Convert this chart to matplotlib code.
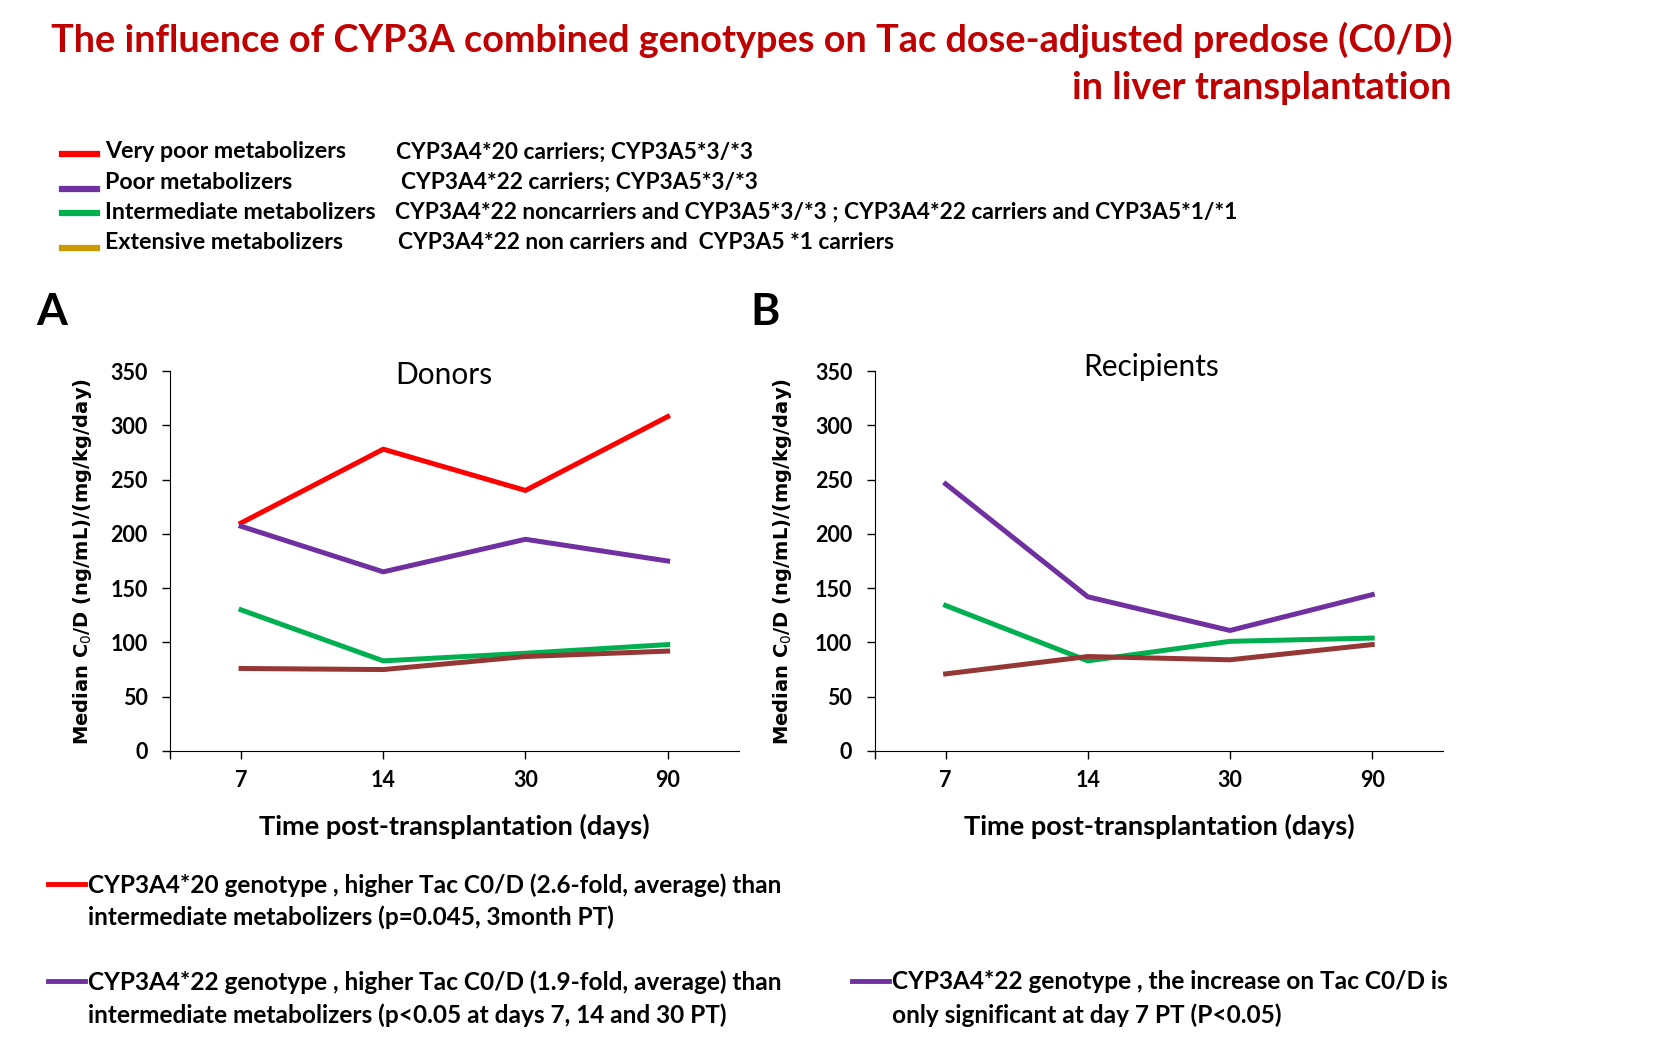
import matplotlib
matplotlib.use("Agg")
import matplotlib.pyplot as plt
from matplotlib.lines import Line2D

plt.rcParams['font.family'] = ['Lato', 'DejaVu Sans']

# data
days = ["7", "14", "30", "90"]
donors_very_poor = [210, 278, 240, 308]
donors_poor = [207, 165, 195, 175]
donors_intermediate = [130, 83, 90, 98]
donors_extensive = [76, 75, 87, 92]

recip_poor = [246, 142, 111, 144]
recip_intermediate = [134, 83, 101, 104]
recip_extensive = [71, 87, 84, 98]

yticks = [0, 50, 100, 150, 200, 250, 300, 350]

legend_names = ["Very poor metabolizers", "Poor metabolizers",
                "Intermediate metabolizers", "Extensive metabolizers"]
legend_geno = ["CYP3A4*20 carriers; CYP3A5*3/*3",
               "CYP3A4*22 carriers; CYP3A5*3/*3",
               "CYP3A4*22 noncarriers and CYP3A5*3/*3 ; CYP3A4*22 carriers and CYP3A5*1/*1",
               "CYP3A4*22 non carriers and  CYP3A5 *1 carriers"]

RED = "#ff0000"
PURPLE = "#7030a0"
GREEN = "#00b050"
GOLD = "#cc9900"
BROWN = "#953735"
legend_colors = [RED, PURPLE, GREEN, GOLD]

fig = plt.figure(figsize=(16.68, 10.41), dpi=100)

# title
fig.text(0.8705, 0.962, "The influence of CYP3A combined genotypes on Tac dose-adjusted predose (C0/D)",
         ha="right", va="center", fontsize=27.3, fontweight="bold", color="#c00000")
fig.text(0.8705, 0.915, "in liver transplantation",
         ha="right", va="center", fontsize=27.3, fontweight="bold", color="#c00000")

# legend block
row_y = [0.854, 0.825, 0.796, 0.767]
sw_off = [-0.002, -0.007, -0.001, -0.005]
geno_x = [0.2374, 0.2404, 0.2368, 0.2386]
for i in range(4):
    fig.add_artist(Line2D([0.037, 0.058], [row_y[i] + sw_off[i]] * 2, color=legend_colors[i],
                          lw=4.5, transform=fig.transFigure))
    fig.text(0.063, row_y[i], legend_names[i], ha="left", va="center", fontsize=16.7, fontweight="bold")
    fig.text(geno_x[i], row_y[i], legend_geno[i], ha="left", va="center", fontsize=16.4, fontweight="bold")

# panel letters
fig.text(0.022, 0.700, "A", fontsize=32, fontweight="bold", va="center")
fig.text(0.450, 0.700, "B", fontsize=32, fontweight="bold", va="center")


def style_axes(ax, title, tx, ty, ylab_x):
    ax.set_xlim(-0.5, 3.5)
    ax.set_ylim(0, 350)
    ax.set_xticks(range(len(days)))
    ax.set_xticklabels(days)
    ax.set_xticks([-0.5], minor=True)
    ax.set_yticks(yticks)
    for s in ["top", "right"]:
        ax.spines[s].set_visible(False)
    ax.tick_params(axis="both", which="both", direction="out", length=6, width=1, labelsize=15.5)
    ax.tick_params(axis="y", pad=10)
    ax.tick_params(axis="x", pad=8)
    for lab in ax.get_xticklabels() + ax.get_yticklabels():
        lab.set_fontweight("bold")
    ax.text(tx, ty, title, transform=ax.transAxes, ha="center", va="center", fontsize=21.5)
    ax.set_ylabel("Median C$_0$/D (ng/mL)/(mg/kg/day)", family="DejaVu Sans",
                  fontsize=14, fontweight="bold")
    ax.yaxis.set_label_coords(ylab_x, 0.5)
    ax.set_xlabel("Time post-transplantation (days)", fontsize=19.5, fontweight="bold")
    ax.xaxis.set_label_coords(0.5, -0.164)


ax1 = fig.add_axes([0.1019, 0.2786, 0.341, 0.365])
x = range(len(days))
ax1.plot(x, donors_very_poor, color=RED, lw=3.6)
ax1.plot(x, donors_poor, color=PURPLE, lw=3.6)
ax1.plot(x, donors_intermediate, color=GREEN, lw=3.6)
ax1.plot(x, donors_extensive, color=BROWN, lw=3.6)
style_axes(ax1, "Donors", 0.481, 0.989, -0.133)

ax2 = fig.add_axes([0.5243, 0.2786, 0.341, 0.365])
ax2.plot(x, recip_poor, color=PURPLE, lw=3.6)
ax2.plot(x, recip_intermediate, color=GREEN, lw=3.6)
ax2.plot(x, recip_extensive, color=BROWN, lw=3.6)
style_axes(ax2, "Recipients", 0.486, 1.01, -0.141)

# bottom notes
notes = [
    (0.029, 0.053, 0.150, RED,
     "CYP3A4*20 genotype , higher Tac C0/D (2.6-fold, average) than\nintermediate metabolizers (p=0.045, 3month PT)"),
    (0.029, 0.053, 0.0567, PURPLE,
     "CYP3A4*22 genotype , higher Tac C0/D (1.9-fold, average) than\nintermediate metabolizers (p<0.05 at days 7, 14 and 30 PT)"),
    (0.511, 0.5345, 0.0567, PURPLE,
     "CYP3A4*22 genotype , the increase on Tac C0/D is\nonly significant at day 7 PT (P<0.05)"),
]
for sx, tx, ty, col, txt in notes:
    fig.add_artist(Line2D([sx, sx + 0.022], [ty + 0.001] * 2, color=col, lw=3.5,
                          transform=fig.transFigure))
    lines = txt.split("\n")
    fig.text(tx, ty, lines[0], ha="left", va="center", fontsize=17.6, fontweight="bold")
    fig.text(tx, ty - 0.0315, lines[1], ha="left", va="center", fontsize=17.6, fontweight="bold")

fig.savefig("out.png", dpi=100)
